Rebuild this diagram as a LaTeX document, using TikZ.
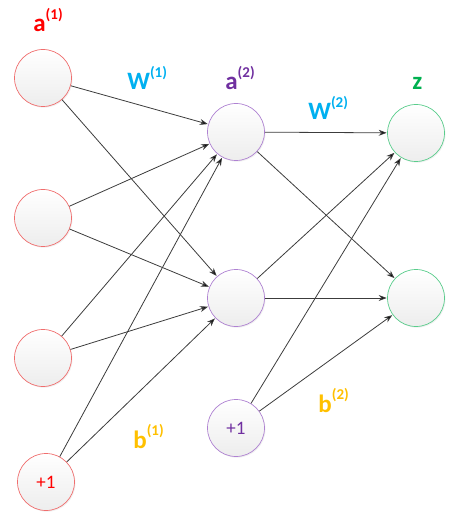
\documentclass[tikz,border=0pt]{standalone}
\usepackage{fontspec}
\setmainfont{Carlito}
\usepackage{tikz}
\usetikzlibrary{arrows.meta, shadows}
\usepackage{xcolor}

\definecolor{inred}{RGB}{255,0,0}
\definecolor{inedge}{RGB}{240,110,110}
\definecolor{wblue}{RGB}{0,176,240}
\definecolor{hidpurple}{RGB}{112,48,160}
\definecolor{hidedge}{RGB}{175,130,210}
\definecolor{outgreen}{RGB}{0,176,80}
\definecolor{outedge}{RGB}{90,205,140}
\definecolor{borange}{RGB}{255,192,0}
\definecolor{linkgray}{RGB}{60,60,60}

\newcommand{\layerlbl}[3]{\textcolor{#1}{\fontsize{25}{25}\selectfont\bfseries #2\raisebox{0.5em}{\fontsize{15}{15}\selectfont #3}}}

\begin{document}
\begin{tikzpicture}[x=1pt, y=-1pt, >={Stealth[length=8pt,width=6pt]},
                shorten >=0.5pt, line width=0.8pt,
                neuron/.style={circle, minimum size=57pt, inner sep=0pt, line width=0.7pt,
                    top color=white, bottom color=black!7,
                    drop shadow={opacity=0.12, shadow xshift=1pt, shadow yshift=-1.2pt}},
                inunit/.style={neuron, draw=inedge, text=inred},
                hidunit/.style={neuron, draw=hidedge, text=hidpurple},
                outunit/.style={neuron, draw=outedge},
                unittext/.style={font=\fontsize{19}{19}\selectfont},
                lbl/.style={anchor=base west, inner sep=0pt}]

                \useasboundingbox (0,0) rectangle (466,526);

                % input layer
                \node[inunit] (x1) at (43,78) {};
                \node[inunit] (x2) at (43,218) {};
                \node[inunit] (x3) at (43,358) {};
                \node[inunit, unittext] (xb) at (46,482) {+1};

                % hidden layer
                \node[hidunit] (h1) at (236,132) {};
                \node[hidunit] (h2) at (236,298) {};
                \node[hidunit, unittext] (hb) at (236,428) {+1};

                % output layer
                \node[outunit] (z1) at (416,133) {};
                \node[outunit] (z2) at (416,298) {};

                % labels
                \node[lbl] (aone) at (33,32) {\layerlbl{inred}{a}{(1)}};
                \node[lbl] (wone) at (127,90) {\layerlbl{wblue}{W}{(1)}};
                \node[lbl] (atwo) at (225,90) {\layerlbl{hidpurple}{a}{(2)}};
                \node[lbl] (wtwo) at (308,120) {\layerlbl{wblue}{W}{(2)}};
                \node[lbl] (zout) at (412,90) {\layerlbl{outgreen}{z}{}};
                \node[lbl] (bone) at (133,448) {\layerlbl{borange}{b}{(1)}};
                \node[lbl] (btwo) at (318,412) {\layerlbl{borange}{b}{(2)}};

                \path[->, draw=linkgray]
                (x1) edge (h1)
                (x1) edge (h2)
                (x2) edge (h1)
                (x2) edge (h2)
                (x3) edge (h1)
                (x3) edge (h2)
                (xb) edge (h1)
                (xb) edge (h2)
                (h1) edge (z1)
                (h1) edge (z2)
                (h2) edge (z1)
                (h2) edge (z2)
                (hb) edge (z1)
                (hb) edge (z2);

\end{tikzpicture}
\end{document}
